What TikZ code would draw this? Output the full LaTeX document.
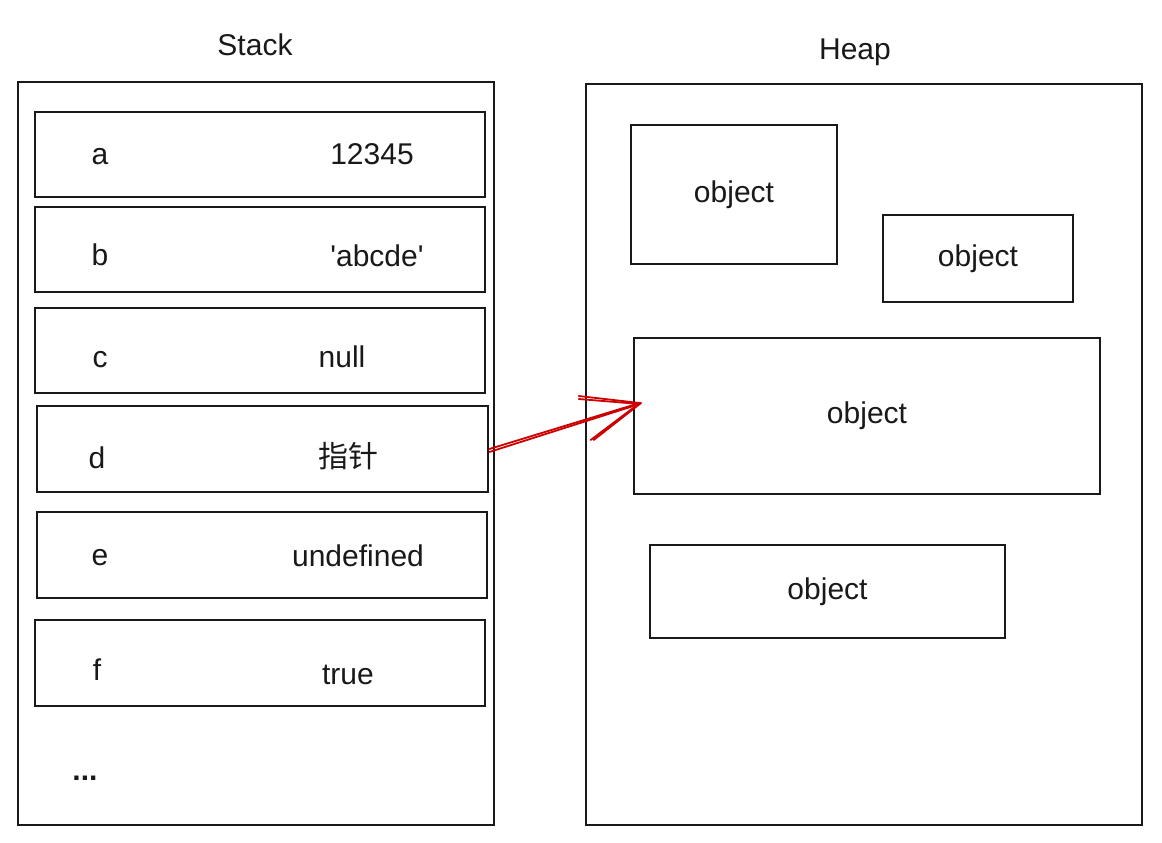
\documentclass[tikz,border=0pt]{standalone}
\usepackage{fontspec}
\setmainfont{Liberation Sans}
\newfontfamily\cjk{Noto Sans CJK SC}
\begin{document}
\begin{tikzpicture}[x=1pt,y=-1pt,
  box/.style={draw=black!90,line width=2.6pt},
  lbl/.style={font=\fontsize{30}{32}\selectfont,text=black!90,inner sep=0pt},
  ptr/.style={draw=red!80!black,line width=1.8pt,line cap=round}]
\useasboundingbox (0,0) rectangle (1162,843);
% titles
\node[lbl] (stacktitle) at (255,45) {Stack};
\node[lbl] (heaptitle) at (855,52) {Heap};
% stack
\draw[box] (18,82) rectangle (494,825);
\node[box,minimum width=450pt,minimum height=85pt,inner sep=0pt] (ra) at (260,154.5) {};
\node[box,minimum width=450pt,minimum height=85pt,inner sep=0pt] (rb) at (260,249.5) {};
\node[box,minimum width=450pt,minimum height=85pt,inner sep=0pt] (rc) at (260,350.5) {};
\node[box,minimum width=451pt,minimum height=86pt,inner sep=0pt] (rd) at (262.5,449) {};
\node[box,minimum width=450pt,minimum height=86pt,inner sep=0pt] (re) at (262,555) {};
\node[box,minimum width=450pt,minimum height=86pt,inner sep=0pt] (rf) at (260,663) {};
\node[lbl] (la) at (100,157) {a};
\node[lbl] (lb) at (100,255) {b};
\node[lbl] (lc) at (100,360) {c};
\node[lbl] (ld) at (97,458) {d};
\node[lbl] (le) at (100,558) {e};
\node[lbl] (lf) at (97,670) {f};
\node[lbl] (va) at (372,154) {12345};
\node[lbl] (vb) at (377,256) {\textquotesingle abcde\textquotesingle};
\node[lbl] (vc) at (342,357) {null};
\node[lbl,font=\cjk\fontsize{30}{32}\selectfont] (vd) at (348,456) {指针};
\node[lbl] (ve) at (358,556) {undefined};
\node[lbl] (vf) at (348,675) {true};
\node[lbl,font=\bfseries\fontsize{30}{32}\selectfont] (dots) at (85,778) {...};
% heap
\draw[box] (586,84) rectangle (1142,825);
\node[box,minimum width=206pt,minimum height=139pt,inner sep=0pt,lbl] (o1) at (734,194.5) {object};
\node[box,minimum width=190pt,minimum height=87pt,inner sep=0pt,lbl] (o2) at (978,258.5) {object};
\node[box,minimum width=466pt,minimum height=156pt,inner sep=0pt,lbl] (o3) at (867,416) {object};
\node[box,minimum width=355pt,minimum height=93pt,inner sep=0pt,lbl] (o4) at (827.5,591.5) {object};
% pointer arrow
\coordinate (tip) at ([xshift=7pt,yshift=13pt]o3.west);
\coordinate (h1) at ([xshift=-61pt,yshift=7pt]tip);
\coordinate (h2) at ([xshift=-49pt,yshift=-37pt]tip);
\draw[ptr] (rd.east) -- (tip);
\draw[ptr] ([yshift=-3pt]rd.east) -- ([yshift=-1pt]tip);
\draw[ptr] (h1) -- (tip) -- (h2);
\draw[ptr] ([yshift=-3pt]h1) -- ([yshift=-1pt]tip) -- ([xshift=3pt]h2);
\end{tikzpicture}
\end{document}
